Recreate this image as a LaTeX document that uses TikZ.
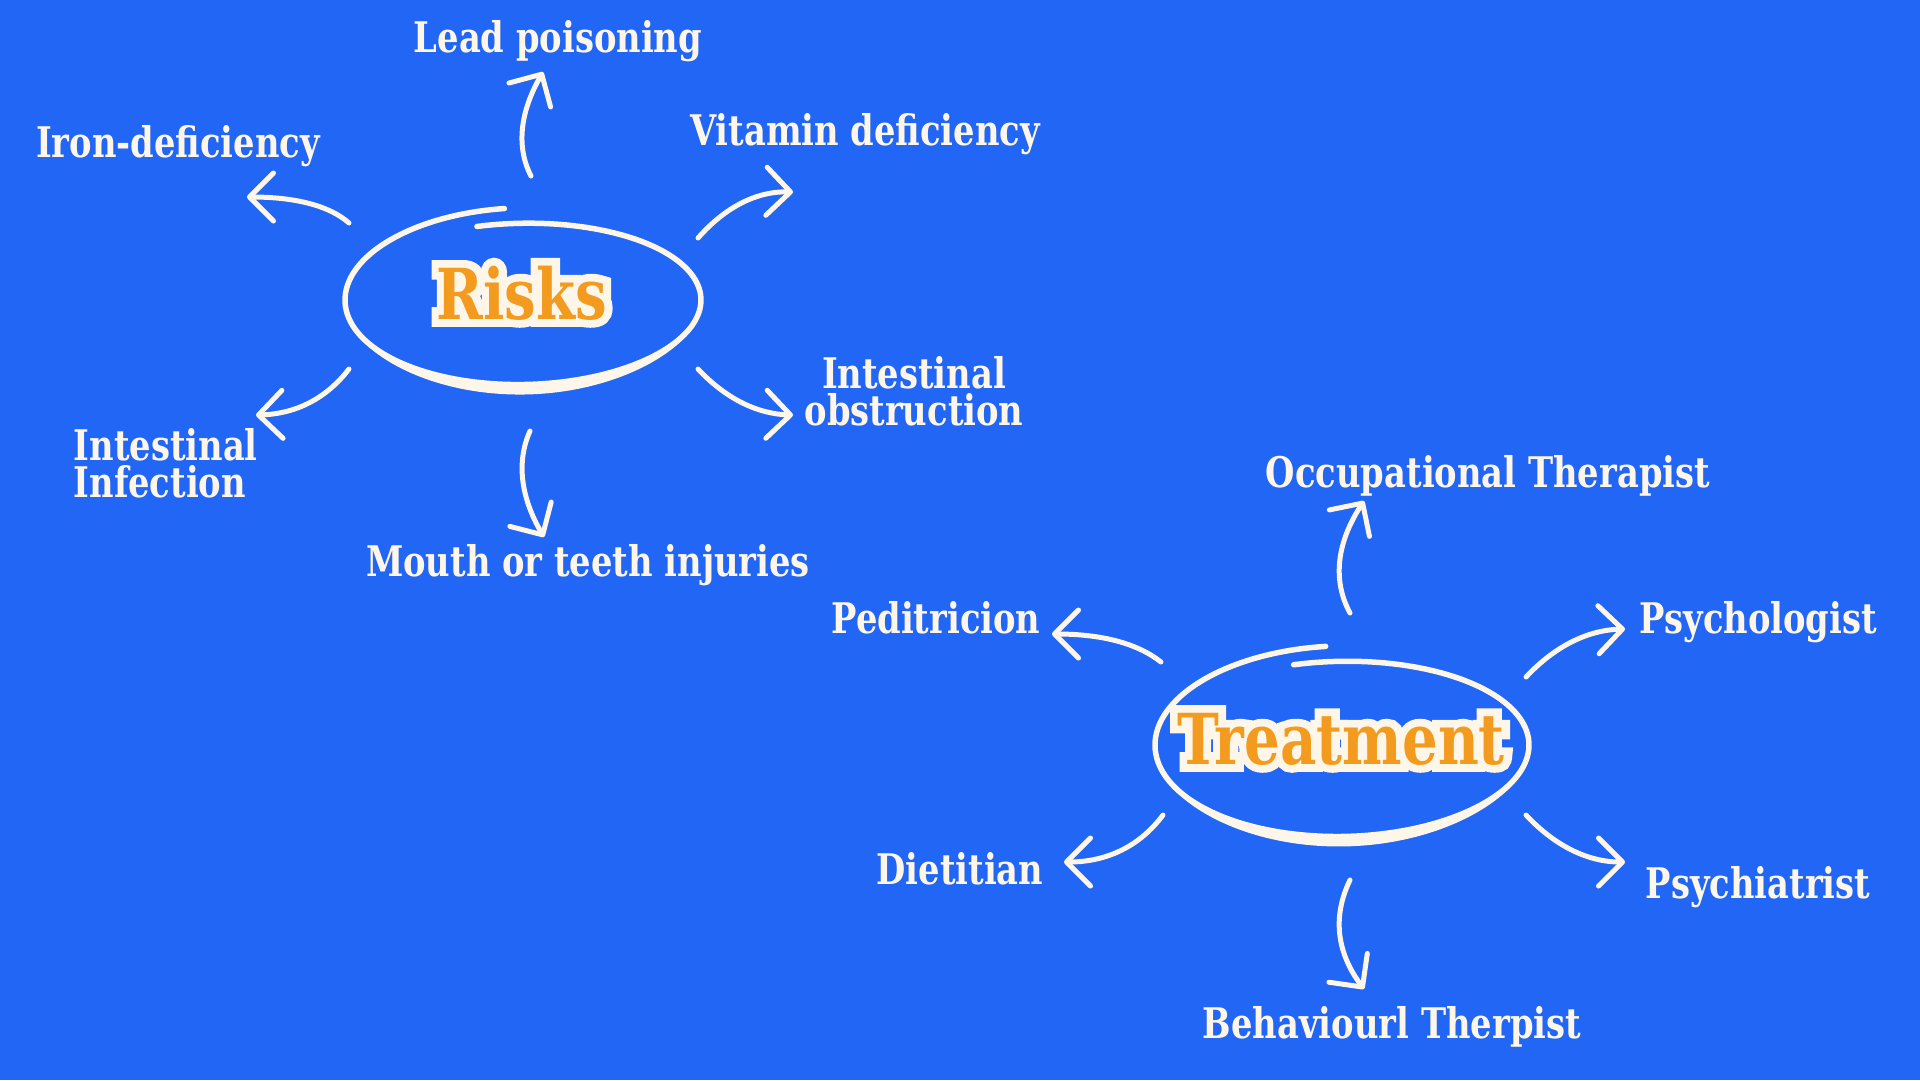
\documentclass[tikz,border=0pt]{standalone}
\usepackage{fontspec}
\newfontfamily\labelfont[FakeStretch=0.8]{DejaVu Serif}
\newfontfamily\edgefont[FakeStretch=0.8, FakeBold=22]{DejaVu Serif}
\usetikzlibrary{arrows.meta}
\definecolor{bgblue}{HTML}{2166F5}
\definecolor{cream}{HTML}{FFF6EA}
\definecolor{tangerine}{HTML}{F29B1E}

\tikzset{
  ring/.style={draw=cream, line width=0.55mm, line cap=round},
  link/.style={draw=cream, line width=0.5mm, line cap=round,
    -{Straight Barb[length=2.4mm, width=4.8mm, round]}},
  lbl/.style={text=cream, inner sep=0pt, align=center,
    font=\labelfont\bfseries\fontsize{12}{10.5}\selectfont},
  hubtext/.style={inner sep=0pt, anchor=base, text=tangerine,
    font=\labelfont\bfseries\fontsize{20}{24}\selectfont},
  hubedge/.style={inner sep=0pt, anchor=base, text=cream,
    font=\edgefont\bfseries\fontsize{20}{24}\selectfont}
}

\begin{document}
\begin{tikzpicture}[x=0.1mm, y=-0.1mm]
  % Canvas
  \fill[bgblue] (0,0) rectangle (1920,1080);
  \useasboundingbox (0,0) rectangle (1920,1080);

  % Risks loop
  \draw[ring] plot[domain=96:465, samples=140, smooth]
    ({523+178*cos(\x)}, {300-(92-0.043*(\x-96))*sin(\x)});
  \fill[cream] plot[domain=200:345, samples=40, smooth]
    ({523+180*cos(\x)}, {300-(94-0.043*(\x-96)+8*sin((\x-200)*1.2414))*sin(\x)})
    -- plot[domain=345:200, samples=40, smooth]
    ({523+180*cos(\x)}, {300-(94-0.043*(\x-96))*sin(\x)}) -- cycle;

  % Treatment loop
  \draw[ring] plot[domain=95:465, samples=140, smooth]
    ({1342+187*cos(\x)}, {745-(99-0.043*(\x-95))*sin(\x)});
  \fill[cream] plot[domain=200:345, samples=40, smooth]
    ({1342+189*cos(\x)}, {745-(101-0.043*(\x-95)+8*sin((\x-200)*1.2414))*sin(\x)})
    -- plot[domain=345:200, samples=40, smooth]
    ({1342+189*cos(\x)}, {745-(101-0.043*(\x-95))*sin(\x)}) -- cycle;

  % Hub titles, cream edge under orange
  \node[hubedge] at (522,319) {Risks};
  \node[hubtext] (risks) at (522,319) {Risks};
  \node[hubedge] at (1341,764) {Treatment};
  \node[hubtext] (treat) at (1341,764) {Treatment};

  % Risk labels
  \node[lbl, anchor=base] (lead) at (558,52) {Lead poisoning};
  \node[lbl, anchor=base] (iron) at (178,157) {Iron-deficiency};
  \node[lbl, anchor=base] (vita) at (865,145) {Vitamin deficiency};
  \node[lbl, anchor=base] (obst) at (914,425) {Intestinal\\obstruction};
  \node[lbl, anchor=base west, align=left] (infe) at (73,497) {Intestinal\\Infection};
  \node[lbl, anchor=base] (mout) at (588,576) {Mouth or teeth injuries};

  % Treatment labels
  \node[lbl, anchor=base] (occu) at (1488,487) {Occupational Therapist};
  \node[lbl, anchor=base] (pedi) at (936,633) {Peditricion};
  \node[lbl, anchor=base] (psyl) at (1758,633) {Psychologist};
  \node[lbl, anchor=base] (diet) at (960,884) {Dietitian};
  \node[lbl, anchor=base] (psyc) at (1758,898) {Psychiatrist};
  \node[lbl, anchor=base] (beha) at (1392,1038) {Behaviourl Therpist};

  % Arrow ends
  \coordinate (leadA) at (531,176);  \coordinate (leadB) at (543,72);
  \coordinate (ironA) at (349,223);  \coordinate (ironB) at (247,197);
  \coordinate (vitaA) at (698,238);  \coordinate (vitaB) at (793,192);
  \coordinate (obstA) at (698,369);  \coordinate (obstB) at (793,415);
  \coordinate (infeA) at (349,369);  \coordinate (infeB) at (256,415);
  \coordinate (moutA) at (530,431);  \coordinate (moutB) at (544,537);
  \coordinate (occuA) at (1350,613); \coordinate (occuB) at (1364,501);
  \coordinate (pediA) at (1161,662); \coordinate (pediB) at (1052,634);
  \coordinate (psylA) at (1526,677); \coordinate (psylB) at (1625,629);
  \coordinate (dietA) at (1163,815); \coordinate (dietB) at (1064,862);
  \coordinate (psycA) at (1526,815); \coordinate (psycB) at (1625,862);
  \coordinate (behaA) at (1350,880); \coordinate (behaB) at (1364,989);

  % Arrows
  \draw[link] (leadA) .. controls (516,147) and (520,112) .. (leadB);
  \draw[link] (ironA) .. controls (330,206) and (296,197) .. (ironB);
  \draw[link] (vitaA) .. controls (726,206) and (758,191) .. (vitaB);
  \draw[link] (obstA) .. controls (726,399) and (758,414) .. (obstB);
  \draw[link] (infeA) .. controls (326,399) and (295,414) .. (infeB);
  \draw[link] (moutA) .. controls (516,462) and (521,498) .. (moutB);
  \draw[link] (occuA) .. controls (1332,580) and (1337,542) .. (occuB);
  \draw[link] (pediA) .. controls (1137,643) and (1101,634) .. (pediB);
  \draw[link] (psylA) .. controls (1555,646) and (1588,630) .. (psylB);
  \draw[link] (dietA) .. controls (1140,846) and (1107,862) .. (dietB);
  \draw[link] (psycA) .. controls (1555,846) and (1588,862) .. (psycB);
  \draw[link] (behaA) .. controls (1332,917) and (1337,953) .. (behaB);
\end{tikzpicture}
\end{document}
